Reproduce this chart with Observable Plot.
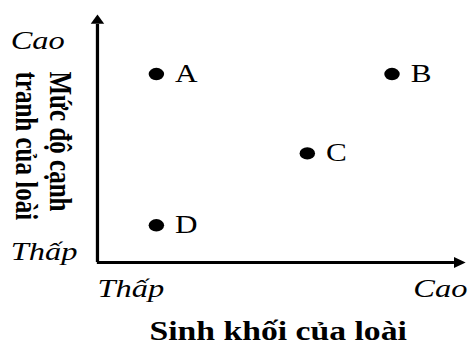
<!DOCTYPE html>
<html>
<head>
<meta charset="utf-8">
<script src="https://cdn.jsdelivr.net/npm/d3@7"></script>
<script src="https://cdn.jsdelivr.net/npm/@observablehq/plot@0.6"></script>
<style>
  html, body { margin: 0; padding: 0; background: #fff; }
  #chart { width: 468px; height: 345px; overflow: hidden; }
</style>
</head>
<body>
<div id="chart"></div>
<script>
// ---- data ----
const species = ["A", "B", "C", "D"];
const biomass = [1.6, 8.0, 5.7, 1.6];        // Sinh khối của loài (0 = Thấp, 10 = Cao)
const competition = [7.6, 7.6, 4.4, 1.5];    // Mức độ cạnh tranh của loài
const xTickValues = [0, 8.58];
const xTickLabels = ["Thấp", "Cao"];
const yTickValues = [8.6, 0.1];
const yTickLabels = ["Cao", "Thấp"];
const xTitle = "Sinh khối của loài";
const yTitleLines = ["Mức độ cạnh", "tranh của loài"];

// ---- tables ----
const points = species.map((s, i) => ({s, x: biomass[i], y: competition[i]}));
const xTicks = xTickValues.map((v, i) => ({v, label: xTickLabels[i]}));
const yTicks = yTickValues.map((v, i) => ({v, label: yTickLabels[i]}));

const W = 375, H = 345, OUTW = 468;
const serif = "'Liberation Serif', 'Times New Roman', serif";

const svg = Plot.plot({
  width: W,
  height: H,
  marginLeft: 77.6,
  marginRight: 2.4,
  marginTop: 14,
  marginBottom: 83,
  style: {fontFamily: serif, color: "#000", background: "#fff", overflow: "visible"},
  x: {domain: [0, 10], axis: null},
  y: {domain: [0, 10], axis: null},
  marks: [
    // axes
    Plot.ruleX([0], {y1: 0, y2: 9.6, stroke: "#000", strokeWidth: 2.6}),
    Plot.ruleY([0], {x1: 0, x2: 9.7, stroke: "#000", strokeWidth: 2.8}),
    Plot.dot([10], {x: 0, y: d => d, symbol: "triangle", r: 4, fill: "#000", stroke: "none", dy: 6.2}),
    Plot.dot([10], {x: d => d, y: 0, symbol: "triangle", r: 4, fill: "#000", stroke: "none", rotate: 90, dx: -6.2}),
    // tick labels
    Plot.text(yTicks, {y: "v", text: "label", frameAnchor: "left", textAnchor: "start", lineAnchor: "bottom",
      dx: -69.5, fontSize: 26, fontStyle: "italic", fill: "#000"}),
    Plot.text(xTicks, {x: "v", text: "label", frameAnchor: "bottom", textAnchor: "start", lineAnchor: "bottom",
      dy: 34, fontSize: 26, fontStyle: "italic", fill: "#000"}),
    // titles
    Plot.text([xTitle], {text: d => d, frameAnchor: "bottom", lineAnchor: "bottom", dy: 77.5, dx: -2.7,
      fontSize: 27, fontWeight: "bold", fill: "#000"}),
    Plot.text([yTitleLines.join("\n")], {text: d => d, frameAnchor: "top-left", textAnchor: "start", lineAnchor: "top",
      rotate: 90, lineHeight: 1.08, dx: -19.1, dy: 57, fontSize: 25, fontWeight: "bold", fill: "#000"}),
    // data points
    Plot.dot(points, {x: "x", y: "y", r: 6.2, fill: "#000", stroke: "none"}),
    Plot.text(points, {x: "x", y: "y", text: "s", textAnchor: "start", dx: 15, fontSize: 25, fill: "#000"})
  ]
});

// the reference is stretched horizontally: render into 375 units and stretch to 468 px
svg.setAttribute("width", OUTW);
svg.setAttribute("height", H);
svg.setAttribute("viewBox", `0 0 ${W} ${H}`);
svg.setAttribute("preserveAspectRatio", "none");
svg.style.width = OUTW + "px";
svg.style.height = H + "px";
svg.style.maxWidth = "none";
document.getElementById("chart").appendChild(svg);
</script>
</body>
</html>
